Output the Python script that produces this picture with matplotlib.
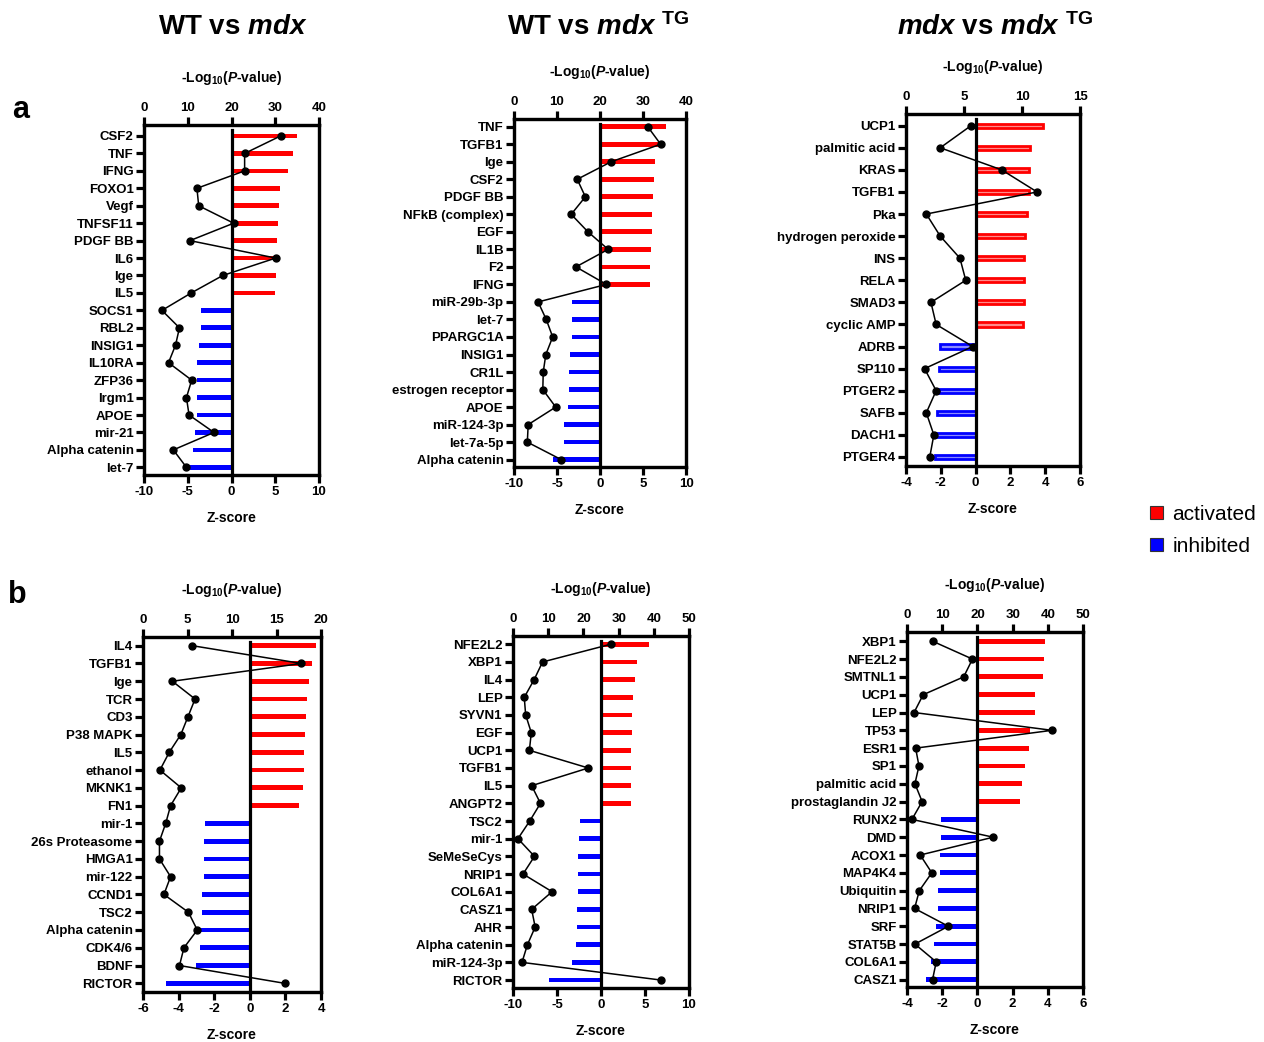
import matplotlib
matplotlib.use('Agg')
import matplotlib.pyplot as plt
from matplotlib.patches import Patch
import numpy as np

plt.rcParams['font.family'] = ['Liberation Sans', 'DejaVu Sans']
plt.rcParams['font.weight'] = 'bold'
plt.rcParams['axes.unicode_minus'] = False
plt.rcParams['mathtext.fontset'] = 'custom'
plt.rcParams['mathtext.rm'] = 'Liberation Sans:bold'
plt.rcParams['mathtext.it'] = 'Liberation Sans:bold:italic'
plt.rcParams['mathtext.bf'] = 'Liberation Sans:bold'

# ---------------- data ----------------
a1_labels = ["CSF2", "TNF", "IFNG", "FOXO1", "Vegf", "TNFSF11", "PDGF BB", "IL6", "Ige", "IL5",
             "SOCS1", "RBL2", "INSIG1", "IL10RA", "ZFP36", "Irgm1", "APOE", "mir-21", "Alpha catenin", "let-7"]
a1_z = [7.5, 7.0, 6.5, 5.5, 5.4, 5.3, 5.2, 5.1, 5.1, 5.0,
        -3.5, -3.5, -3.7, -3.9, -3.95, -3.95, -3.95, -4.15, -4.4, -4.95]
a1_p = [31.2, 23.0, 23.0, 12.1, 12.5, 20.5, 10.5, 30.1, 18.0, 10.8,
        4.1, 8.1, 7.2, 5.6, 10.9, 9.7, 10.3, 16.0, 6.7, 9.7]

a2_labels = ["TNF", "TGFB1", "Ige", "CSF2", "PDGF BB", "NFkB (complex)", "EGF", "IL1B", "F2", "IFNG",
             "miR-29b-3p", "let-7", "PPARGC1A", "INSIG1", "CR1L", "estrogen receptor", "APOE",
             "miR-124-3p", "let-7a-5p", "Alpha catenin"]
a2_z = [7.7, 6.9, 6.4, 6.25, 6.15, 6.1, 6.0, 5.9, 5.85, 5.85,
        -3.25, -3.25, -3.3, -3.45, -3.55, -3.65, -3.7, -4.15, -4.2, -5.5]
a2_p = [31.1, 34.1, 22.6, 14.7, 16.6, 13.3, 17.2, 21.9, 14.4, 21.5,
        5.6, 7.5, 9.0, 7.4, 6.8, 6.7, 9.7, 3.3, 3.1, 11.0]

a3_labels = ["UCP1", "palmitic acid", "KRAS", "TGFB1", "Pka", "hydrogen peroxide", "INS", "RELA",
             "SMAD3", "cyclic AMP", "ADRB", "SP110", "PTGER2", "SAFB", "DACH1", "PTGER4"]
a3_z = [3.85, 3.1, 3.08, 3.05, 2.95, 2.85, 2.8, 2.8, 2.77, 2.73,
        -2.05, -2.08, -2.12, -2.2, -2.25, -2.35]
a3_p = [5.6, 2.95, 8.25, 11.3, 1.75, 2.95, 4.65, 5.15, 2.15, 2.6,
        5.75, 1.6, 2.6, 1.75, 2.4, 2.05]

b1_labels = ["IL4", "TGFB1", "Ige", "TCR", "CD3", "P38 MAPK", "IL5", "ethanol", "MKNK1", "FN1",
             "mir-1", "26s Proteasome", "HMGA1", "mir-122", "CCND1", "TSC2", "Alpha catenin",
             "CDK4/6", "BDNF", "RICTOR"]
b1_z = [3.7, 3.52, 3.33, 3.2, 3.14, 3.09, 3.03, 3.03, 3.0, 2.75,
        -2.53, -2.59, -2.6, -2.6, -2.7, -2.7, -2.73, -2.79, -3.0, -4.7]
b1_p = [5.55, 17.8, 3.3, 5.85, 5.05, 4.25, 2.95, 1.9, 4.3, 3.1,
        2.55, 1.85, 1.85, 3.1, 2.35, 5.1, 6.1, 4.6, 4.1, 15.9]

b2_labels = ["NFE2L2", "XBP1", "IL4", "LEP", "SYVN1", "EGF", "UCP1", "TGFB1", "IL5", "ANGPT2",
             "TSC2", "mir-1", "SeMeSeCys", "NRIP1", "COL6A1", "CASZ1", "AHR", "Alpha catenin",
             "miR-124-3p", "RICTOR"]
b2_z = [5.45, 4.1, 3.9, 3.6, 3.53, 3.5, 3.46, 3.46, 3.46, 3.42,
        -2.44, -2.48, -2.56, -2.56, -2.6, -2.7, -2.78, -2.82, -3.27, -5.95]
b2_p = [27.7, 8.4, 6.0, 3.2, 3.6, 5.2, 4.65, 21.4, 5.3, 7.8,
        4.75, 1.4, 6.1, 2.85, 11.1, 5.3, 6.3, 4.1, 2.55, 42.0]

b3_labels = ["XBP1", "NFE2L2", "SMTNL1", "UCP1", "LEP", "TP53", "ESR1", "SP1", "palmitic acid",
             "prostaglandin J2", "RUNX2", "DMD", "ACOX1", "MAP4K4", "Ubiquitin", "NRIP1", "SRF",
             "STAT5B", "COL6A1", "CASZ1"]
b3_z = [3.83, 3.79, 3.72, 3.28, 3.25, 3.0, 2.92, 2.68, 2.55, 2.42,
        -2.09, -2.09, -2.11, -2.13, -2.23, -2.25, -2.36, -2.49, -2.64, -2.94]
b3_p = [7.3, 18.6, 16.1, 4.6, 2.0, 41.2, 2.45, 3.4, 2.25, 4.3,
        1.4, 24.5, 3.75, 7.05, 3.5, 2.15, 11.75, 2.25, 8.3, 7.25]

titles = [r"WT vs $\mathit{mdx}$", r"WT vs $\mathit{mdx}$ $^{\mathrm{TG}}$", r"$\mathit{mdx}$ vs $\mathit{mdx}$ $^{\mathrm{TG}}$"]
legend_labels = ["activated", "inhibited"]

RED = '#ff0000'
BLUE = '#0000ff'

W, H = 1264, 1042
fig = plt.figure(figsize=(W / 100, H / 100), dpi=100)


def rect(l, r, t, b):
    return [l / W, 1 - b / H, (r - l) / W, (b - t) / H]


LW = 2.3


def panel(r, labels, z, p, zlim, zticks, plim, pticks, pads, hollow=False):
    ax = fig.add_axes(rect(*r))
    n = len(labels)
    y = np.arange(n)
    z = np.asarray(z)
    if hollow:
        face = ['#ff8a8a' if v > 0 else '#8a8aff' for v in z]
        edge = [RED if v > 0 else BLUE for v in z]
        ax.barh(y, z, height=0.19, color=face, edgecolor=edge, linewidth=2.0, zorder=2)
    else:
        cols = [RED if v > 0 else BLUE for v in z]
        ax.barh(y, z, height=0.27, color=cols, zorder=2)
    ax.axvline(0, color='black', lw=LW, ymin=0, ymax=0.985, zorder=3)
    ax.set_xlim(zlim)
    ax.set_xticks(zticks)
    ax.set_ylim(n - 1 + pads[1], -pads[0])
    ax.set_yticks(y)
    ax.set_yticklabels(labels)
    ax.set_xlabel('Z-score', fontsize=10, fontweight='bold', labelpad=9)
    ax2 = ax.twiny()
    ax2.plot(p, y, '-o', color='black', lw=1.1, ms=5, zorder=4)
    ax2.set_xlim(plim)
    ax2.set_xticks(pticks)
    ax2.set_xlabel(r'-Log$_{\mathrm{10}}$($\mathit{P}$-value)', fontsize=10, fontweight='bold', labelpad=14)
    for a in (ax, ax2):
        for s in a.spines.values():
            s.set_linewidth(LW)
        a.tick_params(width=LW, length=6, labelsize=9.5, pad=2)
    ax.tick_params(axis='y', length=6, pad=1.5)
    return ax, ax2


panel((144, 319, 125, 475), a1_labels, a1_z, a1_p, (-10, 10), [-10, -5, 0, 5, 10],
      (0, 40), [0, 10, 20, 30, 40], (0.63, 0.44))
panel((514, 686, 119, 467), a2_labels, a2_z, a2_p, (-10, 10), [-10, -5, 0, 5, 10],
      (0, 40), [0, 10, 20, 30, 40], (0.44, 0.42))
panel((906, 1080, 114, 466), a3_labels, a3_z, a3_p, (-4, 6), [-4, -2, 0, 2, 4, 6],
      (0, 15), [0, 5, 10, 15], (0.53, 0.41), hollow=True)
panel((143, 321, 637, 992), b1_labels, b1_z, b1_p, (-6, 4), [-6, -4, -2, 0, 2, 4],
      (0, 20), [0, 5, 10, 15, 20], (0.49, 0.49))
panel((513, 689, 636, 988), b2_labels, b2_z, b2_p, (-10, 10), [-10, -5, 0, 5, 10],
      (0, 50), [0, 10, 20, 30, 40, 50], (0.47, 0.45))
panel((907, 1083, 632, 987), b3_labels, b3_z, b3_p, (-4, 6), [-4, -2, 0, 2, 4, 6],
      (0, 50), [0, 10, 20, 30, 40, 50], (0.52, 0.41))

# titles
for xc, t in zip([233, 598, 995], titles):
    fig.text(xc / W, 1 - 27 / H, t, fontsize=20, fontweight='bold', ha='center', va='center')

# panel letters
fig.text(12 / W, 1 - 110 / H, 'a', fontsize=22, fontweight='bold', va='center')
fig.text(8 / W, 1 - 595 / H, 'b', fontsize=22, fontweight='bold', va='center')

# legend
handles = [Patch(facecolor=RED, edgecolor='#333333', linewidth=0.8),
           Patch(facecolor=BLUE, edgecolor='#333333', linewidth=0.8)]
fig.legend(handles, legend_labels, loc='upper left', bbox_to_anchor=(1150 / W, 1 - 505 / H),
           frameon=False, prop={'size': 15, 'weight': 'normal'}, handlelength=0.62,
           handleheight=0.62, handletextpad=0.45, labelspacing=0.62, borderaxespad=0, borderpad=0)

fig.savefig('out.png', dpi=100)
